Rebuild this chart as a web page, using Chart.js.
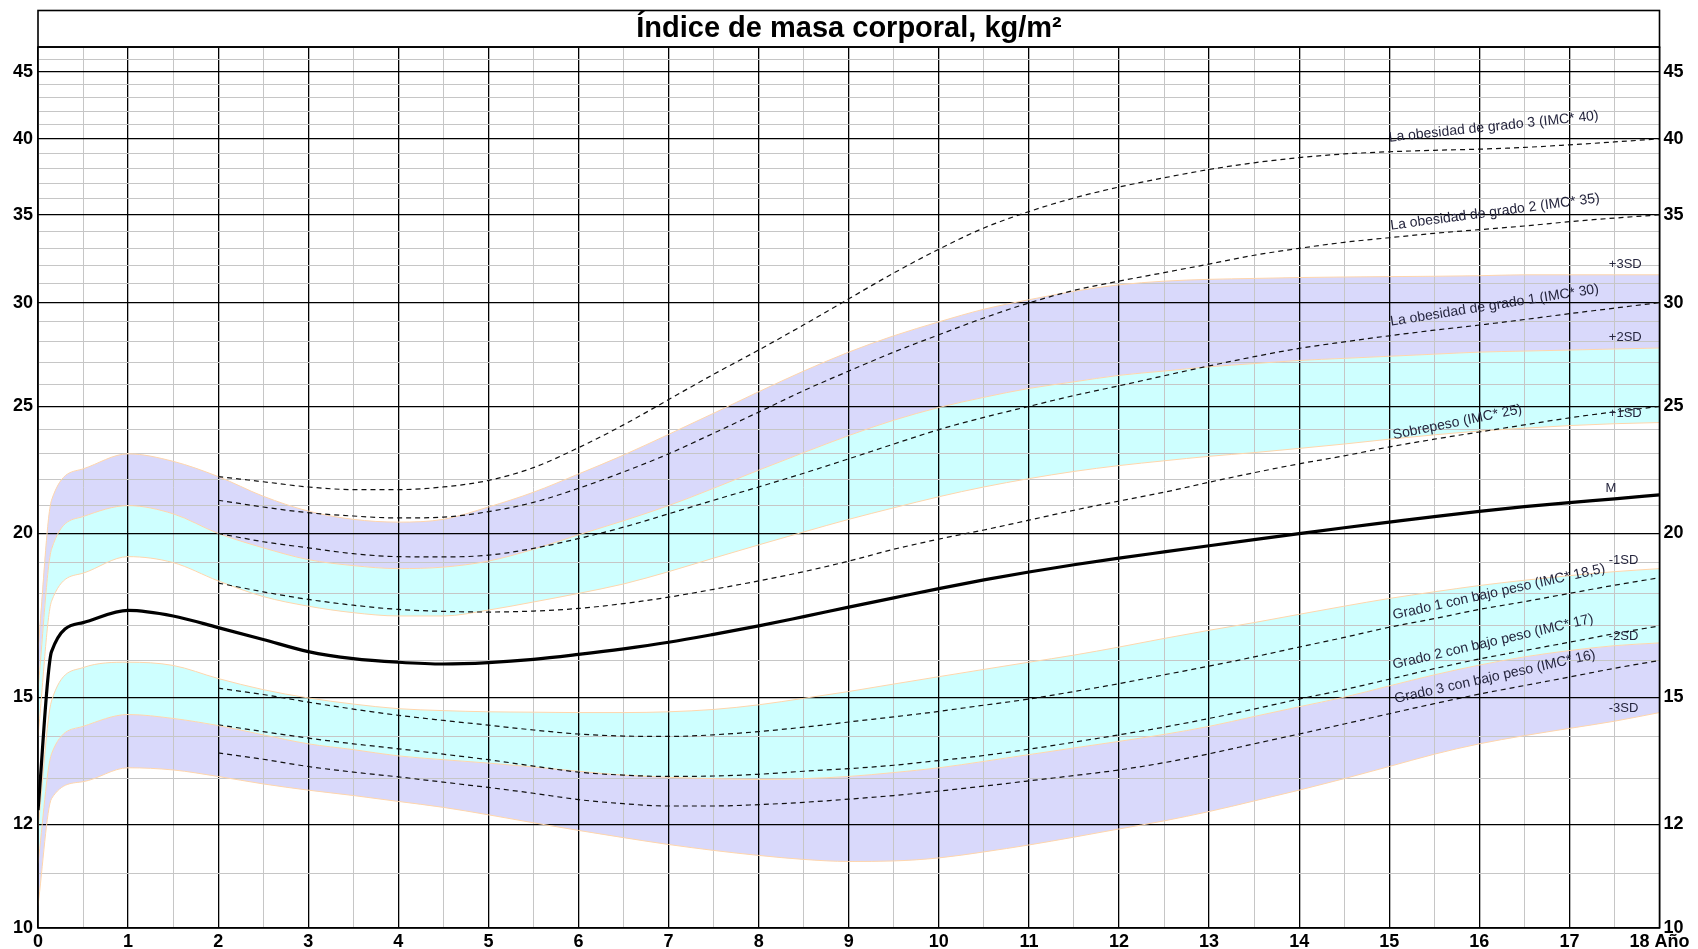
<!DOCTYPE html>
<html lang="es">
<head>
<meta charset="utf-8">
<title>Índice de masa corporal</title>
<script src="https://cdn.jsdelivr.net/npm/chart.js@4.4.1/dist/chart.umd.min.js"></script>
<style>
  html, body { margin: 0; padding: 0; background: #fff; }
  #wrap { width: 1698px; height: 949px; }
</style>
</head>
<body>
<div id="wrap"><canvas id="imcChart" width="1698" height="949"></canvas></div>
<script>
// ages (years) for the SD curves
const ages = [0, 0.15, 0.5, 1, 1.5, 2, 2.5, 3, 3.5, 4, 4.5, 5, 5.5, 6, 6.5, 7, 7.5, 8, 8.5, 9,
  9.5, 10, 10.5, 11, 11.5, 12, 12.5, 13, 13.5, 14, 14.5, 15, 15.5, 16, 16.5, 17, 17.5, 18];

const sdPlus3 = [16.3, 21.2, 22.4, 23.0, 22.7, 22.1, 21.35, 20.8, 20.5, 20.4, 20.5, 20.95, 21.5, 22.2, 22.95, 23.8,
  24.7, 25.65, 26.6, 27.5, 28.3, 29.0, 29.65, 30.15, 30.6, 30.95, 31.15, 31.25, 31.3, 31.35, 31.38, 31.4,
  31.42, 31.45, 31.5, 31.5, 31.5, 31.5];
const sdPlus2 = [15.2, 19.45, 20.6, 21.0, 20.7, 20.0, 19.5, 19.1, 18.9, 18.8, 18.85, 19.05, 19.45, 19.95, 20.45, 21.0,
  21.65, 22.35, 23.05, 23.75, 24.4, 24.95, 25.4, 25.8, 26.1, 26.4, 26.6, 26.8, 26.95, 27.1, 27.2, 27.3,
  27.4, 27.5, 27.55, 27.6, 27.65, 27.7];
const sdPlus1 = [14.0, 17.75, 18.65, 19.2, 19.0, 18.4, 17.9, 17.6, 17.4, 17.3, 17.3, 17.48, 17.73, 18.0, 18.3, 18.7,
  19.15, 19.6, 20.05, 20.5, 20.92, 21.33, 21.7, 22.02, 22.3, 22.53, 22.72, 22.9, 23.05, 23.22, 23.4, 23.6,
  23.78, 23.94, 24.06, 24.17, 24.25, 24.3];
const median = [12.3, 16.25, 17.1, 17.47, 17.3, 16.95, 16.6, 16.25, 16.05, 15.95, 15.9, 15.94, 16.03, 16.17, 16.33, 16.52,
  16.75, 17.0, 17.28, 17.57, 17.86, 18.15, 18.43, 18.69, 18.93, 19.15, 19.36, 19.57, 19.78, 19.99, 20.2, 20.4,
  20.6, 20.79, 20.96, 21.11, 21.25, 21.4];
const sdMinus1 = [11.9, 14.9, 15.8, 15.95, 15.86, 15.5, 15.2, 14.98, 14.82, 14.7, 14.65, 14.62, 14.61, 14.6, 14.6, 14.62,
  14.68, 14.8, 14.97, 15.15, 15.35, 15.55, 15.75, 15.95, 16.15, 16.38, 16.63, 16.87, 17.1, 17.35, 17.6, 17.84,
  18.05, 18.25, 18.42, 18.57, 18.7, 18.8];
const sdMinus2 = [11.2, 13.58, 14.25, 14.55, 14.45, 14.27, 14.04, 13.82, 13.68, 13.53, 13.44, 13.36, 13.27, 13.17, 13.08, 13.03,
  13.0, 12.98, 13.0, 13.05, 13.14, 13.25, 13.4, 13.56, 13.72, 13.88, 14.05, 14.25, 14.5, 14.75, 15.0, 15.3,
  15.6, 15.87, 16.1, 16.28, 16.42, 16.5];
const sdMinus3 = [10.4, 12.55, 12.93, 13.25, 13.2, 13.05, 12.88, 12.74, 12.62, 12.49, 12.36, 12.2, 12.03, 11.87, 11.72, 11.58,
  11.46, 11.36, 11.28, 11.24, 11.25, 11.31, 11.43, 11.57, 11.73, 11.9, 12.07, 12.27, 12.5, 12.74, 13.0, 13.28,
  13.57, 13.82, 14.02, 14.2, 14.38, 14.6];

// ages for the adult cut-off curves (from 2 years)
const cutAges = [2, 2.5, 3, 3.5, 4, 4.5, 5, 5.5, 6, 6.5, 7, 7.5, 8, 8.5, 9, 9.5, 10, 10.5, 11, 11.5,
  12, 12.5, 13, 13.5, 14, 14.5, 15, 15.5, 16, 16.5, 17, 17.5, 18];

const obese3 = [22.1, 21.9, 21.7, 21.6, 21.6, 21.7, 21.95, 22.45, 23.25, 24.2, 25.3, 26.45, 27.6, 28.85, 30.2, 31.6, 32.95,
  34.2, 35.2, 36.05, 36.75, 37.35, 37.9, 38.35, 38.7, 38.95, 39.1, 39.2, 39.28, 39.4, 39.58, 39.78, 40.0];
const obese2 = [21.2, 20.95, 20.74, 20.62, 20.55, 20.58, 20.78, 21.12, 21.65, 22.28, 23.0, 23.85, 24.75, 25.7, 26.6, 27.5, 28.35,
  29.2, 29.98, 30.65, 31.15, 31.62, 32.1, 32.6, 33.0, 33.35, 33.62, 33.88, 34.1, 34.32, 34.58, 34.8, 35.0];
const obese1 = [20.0, 19.71, 19.5, 19.3, 19.2, 19.19, 19.25, 19.48, 19.82, 20.22, 20.7, 21.2, 21.7, 22.23, 22.8, 23.4, 24.0,
  24.52, 25.0, 25.48, 25.92, 26.38, 26.84, 27.28, 27.68, 28.0, 28.3, 28.58, 28.84, 29.12, 29.42, 29.71, 30.0];
const overweight = [18.33, 18.05, 17.81, 17.63, 17.5, 17.44, 17.42, 17.45, 17.53, 17.68, 17.88, 18.13, 18.4, 18.7, 19.05, 19.45, 19.8,
  20.12, 20.47, 20.83, 21.17, 21.5, 21.88, 22.25, 22.6, 22.92, 23.28, 23.6, 23.9, 24.2, 24.5, 24.76, 25.0];
const thin1 = [15.24, 15.07, 14.87, 14.69, 14.53, 14.4, 14.28, 14.16, 14.06, 14.01, 14.0, 14.04, 14.12, 14.23, 14.36, 14.49, 14.63,
  14.79, 14.95, 15.15, 15.36, 15.6, 15.84, 16.1, 16.38, 16.66, 16.96, 17.22, 17.5, 17.74, 18.0, 18.26, 18.5];
const thin2 = [14.29, 14.12, 13.96, 13.82, 13.7, 13.57, 13.44, 13.29, 13.15, 13.08, 13.05, 13.06, 13.1, 13.17, 13.23, 13.31, 13.42,
  13.54, 13.69, 13.86, 14.04, 14.23, 14.45, 14.69, 14.95, 15.2, 15.48, 15.77, 16.04, 16.28, 16.52, 16.77, 17.0];
const thin3 = [13.6, 13.45, 13.28, 13.15, 13.04, 12.92, 12.8, 12.67, 12.53, 12.44, 12.39, 12.39, 12.42, 12.47, 12.54, 12.62, 12.72,
  12.83, 12.95, 13.07, 13.2, 13.37, 13.58, 13.82, 14.06, 14.31, 14.57, 14.83, 15.08, 15.31, 15.54, 15.78, 16.0];

// axes
const xTickLabels = ['0', '1', '2', '3', '4', '5', '6', '7', '8', '9', '10', '11', '12', '13', '14', '15', '16', '17', '18 Año'];
const yGridValues = [10, 11, 12, 13, 14, 15, 16, 17, 18, 19, 20, 21, 22, 23, 24, 25, 26, 27, 28, 29, 30,
  31, 32, 33, 34, 35, 36, 37, 38, 39, 40, 41, 42, 43, 44, 45, 46, 47];
const yLabelValues = [10, 12, 15, 20, 25, 30, 35, 40, 45];

// curve labels (anchored in data units)
const sdLabels = [
  { text: '+3SD', x: 17.62, y: 32.1 },
  { text: '+2SD', x: 17.62, y: 28.2 },
  { text: '+1SD', x: 17.62, y: 24.7 },
  { text: 'M', x: 17.46, y: 21.65 },
  { text: '-1SD', x: 17.6, y: 19.06 },
  { text: '-2SD', x: 17.6, y: 16.7 },
  { text: '-3SD', x: 17.6, y: 14.7 }
];
const cutLabels = [
  { text: 'La obesidad de grado 3 (IMC* 40)', x: 15.0, y: 39.8, angle: 6 },
  { text: 'La obesidad de grado 2 (IMC* 35)', x: 15.02, y: 34.1, angle: 7.5 },
  { text: 'La obesidad de grado 1 (IMC* 30)', x: 15.02, y: 28.8, angle: 9 },
  { text: 'Sobrepeso (IMC* 25)', x: 15.05, y: 23.6, angle: 11.5 },
  { text: 'Grado 1 con bajo peso (IMC* 18,5)', x: 15.05, y: 17.2, angle: 12.5 },
  { text: 'Grado 2 con bajo peso (IMC* 17)', x: 15.05, y: 15.77, angle: 13 },
  { text: 'Grado 3 con bajo peso (IMC* 16)', x: 15.07, y: 14.85, angle: 12.5 }
];

const FONT = '"Liberation Sans", Arial, sans-serif';
const LAVENDER = 'rgb(217, 217, 251)';
const CYAN = 'rgb(206, 255, 255)';
const EDGE = 'rgb(255, 214, 172)';
const LABEL_COLOR = '#25253d';

function toPoints(xs, ys) {
  return xs.map((x, i) => ({ x: x, y: ys[i] }));
}

function sdSet(label, values, fill, fillColor) {
  return {
    label: label,
    data: toPoints(ages, values),
    borderColor: EDGE,
    borderWidth: 1,
    backgroundColor: fillColor || 'transparent',
    fill: fill,
    pointRadius: 0,
    cubicInterpolationMode: 'monotone',
    order: 2
  };
}

function cutSet(label, values) {
  return {
    label: label,
    data: toPoints(cutAges, values),
    borderColor: '#111',
    borderWidth: 1.2,
    borderDash: [5, 4],
    fill: false,
    pointRadius: 0,
    cubicInterpolationMode: 'monotone',
    order: 1
  };
}

function gridColor(isMajor) {
  return isMajor ? '#000' : '#c6c6c6';
}

const framePlugin = {
  id: 'frame',
  afterDraw(chart) {
    const { ctx, chartArea } = chart;
    ctx.save();
    ctx.strokeStyle = '#000';
    ctx.lineWidth = 1.6;
    ctx.strokeRect(chartArea.left, chartArea.top, chartArea.right - chartArea.left, chartArea.bottom - chartArea.top);
    // title box
    ctx.strokeRect(chartArea.left, 10.5, chartArea.right - chartArea.left, chartArea.top - 10.5);
    ctx.restore();
  }
};

const curveLabelsPlugin = {
  id: 'curveLabels',
  afterDatasetsDraw(chart) {
    const { ctx, scales } = chart;
    ctx.save();
    ctx.fillStyle = LABEL_COLOR;
    ctx.font = '13px ' + FONT;
    ctx.textAlign = 'center';
    ctx.textBaseline = 'middle';
    sdLabels.forEach((l) => {
      ctx.fillText(l.text, scales.x.getPixelForValue(l.x), scales.y.getPixelForValue(l.y));
    });
    ctx.font = '14px ' + FONT;
    ctx.textAlign = 'left';
    ctx.textBaseline = 'alphabetic';
    cutLabels.forEach((l) => {
      ctx.save();
      ctx.translate(scales.x.getPixelForValue(l.x), scales.y.getPixelForValue(l.y));
      ctx.rotate(-l.angle * Math.PI / 180);
      ctx.fillText(l.text, 0, 0);
      ctx.restore();
    });
    ctx.restore();
  }
};

const tickFont = { family: FONT, size: 18, weight: 'bold' };

function yAxis(position, width, padding, drawGrid) {
  return {
    type: 'logarithmic',
    position: position,
    min: 10,
    max: 47,
    afterFit(scale) { scale.width = width; },
    afterBuildTicks(scale) { scale.ticks = yGridValues.map((v) => ({ value: v })); },
    border: { display: false },
    grid: {
      drawOnChartArea: drawGrid,
      drawTicks: false,
      color: (c) => gridColor(c.tick && yLabelValues.includes(c.tick.value)),
      lineWidth: (c) => (c.tick && yLabelValues.includes(c.tick.value) ? 1.3 : 1)
    },
    ticks: {
      autoSkip: false,
      padding: padding,
      color: '#000',
      font: tickFont,
      callback: (v) => (yLabelValues.includes(v) ? String(v) : '')
    }
  };
}

new Chart(document.getElementById('imcChart'), {
  type: 'line',
  data: {
    datasets: [
      sdSet('+3SD', sdPlus3, '+1', LAVENDER),
      sdSet('+2SD', sdPlus2, '+1', CYAN),
      sdSet('+1SD', sdPlus1, false),
      sdSet('-1SD', sdMinus1, '+1', CYAN),
      sdSet('-2SD', sdMinus2, '+1', LAVENDER),
      sdSet('-3SD', sdMinus3, false),
      {
        label: 'M',
        data: toPoints(ages, median),
        borderColor: '#000',
        borderWidth: 3.2,
        fill: false,
        pointRadius: 0,
        cubicInterpolationMode: 'monotone',
        order: 0
      },
      cutSet('IMC 40', obese3),
      cutSet('IMC 35', obese2),
      cutSet('IMC 30', obese1),
      cutSet('IMC 25', overweight),
      cutSet('IMC 18,5', thin1),
      cutSet('IMC 17', thin2),
      cutSet('IMC 16', thin3)
    ]
  },
  options: {
    responsive: false,
    animation: false,
    events: [],
    layout: { padding: 0 },
    plugins: {
      legend: { display: false },
      tooltip: { enabled: false },
      filler: { propagate: false, drawTime: 'beforeDraw' },
      title: {
        display: true,
        text: 'Índice de masa corporal, kg/m²',
        color: '#000',
        font: { family: FONT, size: 29, weight: 'bold', lineHeight: 1.2 },
        padding: { top: 12, bottom: 0.2 }
      }
    },
    scales: {
      x: {
        type: 'linear',
        min: 0,
        max: 18,
        afterFit(scale) { scale.height = 21; },
        border: { display: false },
        grid: {
          drawTicks: false,
          color: (c) => gridColor(c.tick && Number.isInteger(c.tick.value)),
          lineWidth: (c) => (c.tick && Number.isInteger(c.tick.value) ? 1.3 : 1)
        },
        ticks: {
          stepSize: 0.5,
          autoSkip: false,
          maxRotation: 0,
          padding: 3,
          color: '#000',
          font: tickFont,
          callback: (v) => (Number.isInteger(v) ? xTickLabels[v] : '')
        }
      },
      y: yAxis('left', 38, 5, true),
      y2: yAxis('right', 38.5, 4, false)
    }
  },
  plugins: [framePlugin, curveLabelsPlugin]
});
</script>
</body>
</html>
